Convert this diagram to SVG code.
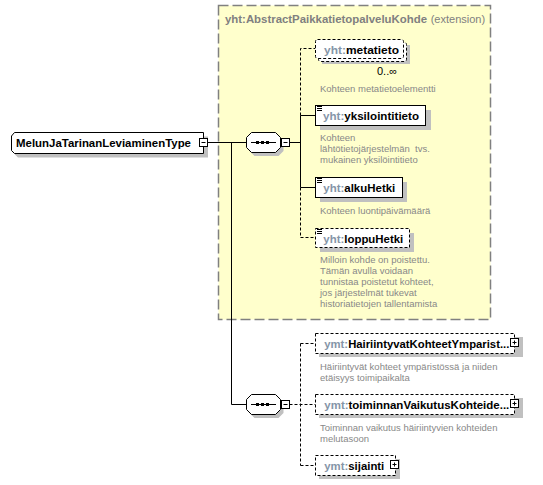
<svg xmlns="http://www.w3.org/2000/svg" width="543" height="485" viewBox="0 0 543 485">
<defs>
<style>
.bg{fill:#fff}
.ext{fill:#ffffcc;stroke:#808080;stroke-width:1.5;stroke-dasharray:10,4}
.box{fill:#fff;stroke:#000;stroke-width:1}
.dash{stroke-dasharray:3,2}
.shadow{fill:#c0c0c0}
.conn{stroke:#000;stroke-width:1;fill:none}
.name{font-family:"Liberation Sans",Arial,sans-serif;font-weight:bold;font-size:11.5px;fill:#000}
.ns{fill:#8595a8}
.head{font-family:"Liberation Sans",Arial,sans-serif;font-size:11px;fill:#808080}
.desc{font-family:"Liberation Sans",Arial,sans-serif;font-size:9.5px;fill:#888}
.occ{font-family:"Liberation Sans",Arial,sans-serif;font-size:11px;fill:#000}
.icon{stroke:#000;stroke-width:1}
</style>
</defs>
<rect class="bg" x="0" y="0" width="543" height="485"/>

<g id="extension">
<rect class="ext" x="218.5" y="5.5" width="272" height="314"/>
<text class="head" x="225" y="23"><tspan font-weight="bold" textLength="202" lengthAdjust="spacingAndGlyphs">yht:AbstractPaikkatietopalveluKohde</tspan></text>
<text class="head" x="430.7" y="23">(extension)</text>
</g>

<g id="connectors">
<path class="conn" d="M207.5,142.5 H246.5 M231.5,142.5 V404.5 H246.5"/>
<path class="conn" d="M289.5,142.5 H300.5 M300.5,115.5 V187.5 M300.5,115.5 H315.5 M300.5,187.5 H315.5"/>
<path class="conn dash" d="M300.5,115.5 V48.5 H315.5 M300.5,187.5 V237.5 H315.5"/>
<path class="conn dash" d="M289.5,404.5 H315.5 M300.5,343.5 V465.5 M300.5,343.5 H315.5 M300.5,465.5 H315.5"/>
</g>

<g id="MelunJaTarinanLeviaminenType">
<path class="shadow" d="M15,140 L18,136.5 H208 V157.5 H18 L15,154.5 Z"/>
<path class="box" d="M11.5,136 L14.5,132.5 H203.5 V153.5 H14.5 L11.5,150.5 Z"/>
<text class="name" x="16" y="146.8" textLength="175" lengthAdjust="spacingAndGlyphs">MelunJaTarinanLeviaminenType</text>
<rect class="box" x="199.5" y="138.5" width="8" height="8"/>
<path class="icon" d="M201.5,142.5 H205.5"/>
</g>

<g id="sequence1">
<path class="shadow" d="M254.5,136 H278.5 L283.5,141 V151 L278.5,156 H254.5 L249.5,151 V141 Z"/>
<path class="box" d="M251.5,132.5 H275.5 L280.5,137.5 V147.5 L275.5,152.5 H251.5 L246.5,147.5 V137.5 Z"/>
<path class="icon" d="M251,142.5 H276"/>
<rect x="256" y="141" width="3" height="3" fill="#000"/>
<rect x="261" y="141" width="3" height="3" fill="#000"/>
<rect x="266" y="141" width="3" height="3" fill="#000"/>
<rect class="box" x="281.5" y="138.5" width="8" height="8"/>
<path class="icon" d="M283.5,142.5 H287.5"/>
</g>

<g id="metatieto">
<rect class="shadow" x="322" y="45" width="88" height="19"/>
<rect class="box dash" x="318.5" y="42.5" width="88" height="19" rx="2"/>
<rect class="box dash" x="315.5" y="39.5" width="88" height="19" rx="2"/>
<text class="name" x="324" y="54" textLength="75" lengthAdjust="spacingAndGlyphs"><tspan class="ns">yht:</tspan>metatieto</text>
<text class="occ" x="377" y="75">0..∞</text>
<text class="desc" x="320" y="91.5">Kohteen metatietoelementti</text>
</g>

<g id="yksilointitieto">
<rect class="shadow" x="320" y="110" width="111" height="20"/>
<rect class="box" x="315.5" y="105.5" width="110" height="20"/>
<path class="icon" d="M317,106.5 H322 M317,108.5 H322 M317,110.5 H322"/>
<text class="name" x="323" y="120" textLength="96" lengthAdjust="spacingAndGlyphs"><tspan class="ns">yht:</tspan>yksilointitieto</text>
<text class="desc" x="320" y="141">Kohteen</text>
<text class="desc" x="320" y="152" xml:space="preserve">lähtötietojärjestelmän  tvs.</text>
<text class="desc" x="320" y="163">mukainen yksilöintitieto</text>
</g>

<g id="alkuHetki">
<rect class="shadow" x="320" y="182" width="87" height="20"/>
<rect class="box" x="315.5" y="177.5" width="87" height="20"/>
<path class="icon" d="M317,178.5 H322 M317,180.5 H322 M317,182.5 H322"/>
<text class="name" x="323.3" y="192" textLength="72" lengthAdjust="spacingAndGlyphs"><tspan class="ns">yht:</tspan>alkuHetki</text>
<text class="desc" x="320" y="213.5">Kohteen luontipäivämäärä</text>
</g>

<g id="loppuHetki">
<rect class="shadow" x="320" y="233" width="94" height="19"/>
<rect class="box dash" x="315.5" y="228.5" width="94" height="19"/>
<path class="icon" d="M317,229.5 H322 M317,231.5 H322 M317,233.5 H322"/>
<text class="name" x="323.3" y="242.5" textLength="80" lengthAdjust="spacingAndGlyphs"><tspan class="ns">yht:</tspan>loppuHetki</text>
<text class="desc" x="320" y="263">Milloin kohde on poistettu.</text>
<text class="desc" x="320" y="274">Tämän avulla voidaan</text>
<text class="desc" x="320" y="285">tunnistaa poistetut kohteet,</text>
<text class="desc" x="320" y="296">jos järjestelmät tukevat</text>
<text class="desc" x="320" y="307">historiatietojen tallentamista</text>
</g>

<g id="sequence2">
<path class="shadow" d="M254.5,398 H278.5 L283.5,403 V413 L278.5,418 H254.5 L249.5,413 V403 Z"/>
<path class="box" d="M251.5,394.5 H275.5 L280.5,399.5 V409.5 L275.5,414.5 H251.5 L246.5,409.5 V399.5 Z"/>
<path class="icon" d="M251,404.5 H276"/>
<rect x="256" y="403" width="3" height="3" fill="#000"/>
<rect x="261" y="403" width="3" height="3" fill="#000"/>
<rect x="266" y="403" width="3" height="3" fill="#000"/>
<rect class="box" x="281.5" y="400.5" width="8" height="8"/>
<path class="icon" d="M283.5,404.5 H287.5"/>
</g>

<g id="HairiintyvatKohteetYmparistossa">
<rect class="shadow" x="319" y="337" width="204" height="20"/>
<rect class="box dash" x="315.5" y="333.5" width="199" height="20"/>
<text class="name" x="324.3" y="348" textLength="185" lengthAdjust="spacingAndGlyphs"><tspan class="ns">ymt:</tspan>HairiintyvatKohteetYmparist...</text>
<rect class="box" x="510.5" y="338.5" width="8" height="8"/>
<path class="icon" d="M512.5,342.5 H516.5 M514.5,340.5 V344.5"/>
<text class="desc" x="320" y="369.5">Häiriintyvät kohteet ympäristössä ja niiden</text>
<text class="desc" x="320" y="380.5">etäisyys toimipaikalta</text>
</g>

<g id="toiminnanVaikutusKohteiden">
<rect class="shadow" x="319" y="398" width="204" height="20"/>
<rect class="box dash" x="315.5" y="394.5" width="199" height="20"/>
<text class="name" x="324.3" y="409" textLength="185" lengthAdjust="spacingAndGlyphs"><tspan class="ns">ymt:</tspan>toiminnanVaikutusKohteide...</text>
<rect class="box" x="510.5" y="399.5" width="8" height="8"/>
<path class="icon" d="M512.5,403.5 H516.5 M514.5,401.5 V405.5"/>
<text class="desc" x="320" y="431">Toiminnan vaikutus häiriintyvien kohteiden</text>
<text class="desc" x="320" y="442">melutasoon</text>
</g>

<g id="sijainti">
<rect class="shadow" x="319" y="459" width="81" height="20"/>
<rect class="box dash" x="315.5" y="455.5" width="80" height="20"/>
<text class="name" x="324.3" y="470" textLength="60" lengthAdjust="spacingAndGlyphs"><tspan class="ns">ymt:</tspan>sijainti</text>
<rect class="box" x="390.5" y="460.5" width="8" height="8"/>
<path class="icon" d="M392.5,464.5 H396.5 M394.5,462.5 V466.5"/>
</g>
</svg>
